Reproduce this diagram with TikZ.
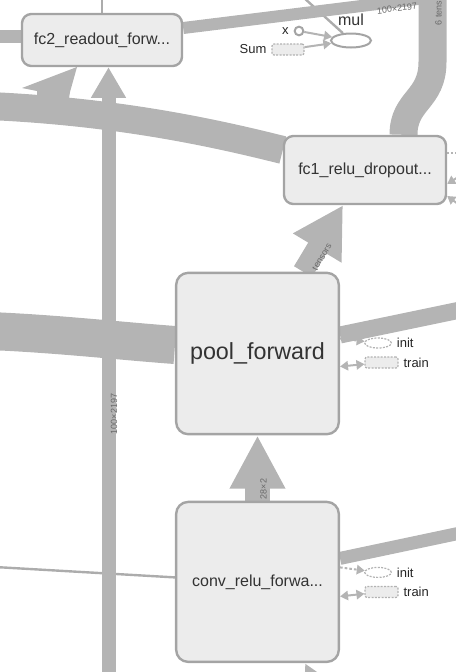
\documentclass[tikz,border=0pt]{standalone}
\usepackage{fontspec}
\setmainfont{Liberation Sans}
\usetikzlibrary{positioning,calc,arrows.meta,shapes.geometric}
\definecolor{edgegray}{RGB}{180,180,180}
\definecolor{thingray}{RGB}{172,172,172}
\definecolor{boxfill}{RGB}{236,236,236}
\definecolor{boxline}{RGB}{164,164,164}
\definecolor{nametext}{RGB}{51,51,51}
\definecolor{tagtext}{RGB}{105,105,105}
\pgfdeclarelayer{bg}
\pgfsetlayers{bg,main}
\tikzset{
    opbox/.style={
           rectangle, rounded corners=7pt,
           draw=boxline, line width=1.8pt,
           fill=boxfill, text=nametext,
           inner sep=0pt,
           font=\fontsize{12}{14}\selectfont,
           },
}
\tikzset{
    band/.style={draw=edgegray, line cap=butt},
    thinedge/.style={draw=thingray, line width=1.8pt},
    edgelbl/.style={text=tagtext, inner sep=0pt, font=\fontsize{6.75}{8}\selectfont},
    lbl/.style={text=black!85, inner sep=0.5pt, font=\fontsize{9.75}{11}\selectfont},
    auxnode/.style={draw=boxline!85, dash pattern=on 1.5pt off 1pt, line width=0.9pt, inner sep=0pt},
    auxarrow/.style={draw=edgegray, line width=1.5pt, -{Triangle[length=6pt,width=7pt]}},
    auxboth/.style={draw=edgegray, line width=1.5pt, {Triangle[length=6pt,width=7pt]}-{Triangle[length=6pt,width=7pt]}},
    label distance=3pt,
}

\begin{document}
\begin{tikzpicture}[x=0.75pt,y=-0.75pt]
\useasboundingbox (0,0) rectangle (455,672);

% group nodes
\node[opbox, minimum width=120pt, minimum height=39pt] (fc2) at (102,40) {fc2\_readout\_forw...};
\node[opbox, minimum width=121.5pt, minimum height=51pt] (fc1) at (365,170) {fc1\_relu\_dropout...};
\node[opbox, rounded corners=9pt, minimum width=122pt, minimum height=121pt,
      font=\fontsize{17.5}{20}\selectfont] (pool) at (257.5,353.5) {pool\_forward};
\node[opbox, rounded corners=9pt, minimum width=122pt, minimum height=120pt,
      below=49pt of pool] (conv) {conv\_relu\_forwa...};

% mul and its inputs
\node[ellipse, draw=boxline, line width=1.5pt, fill=white, minimum width=30pt, minimum height=10.5pt, inner sep=0pt,
      label={[text=nametext, inner sep=0pt, label distance=5pt, font=\fontsize{12}{14}\selectfont]above:mul}] (mul) at (351,40.5) {};
\node[circle, draw=boxline, line width=1.5pt, fill=white, minimum size=6.5pt, inner sep=0pt,
      label={[lbl]left:x}] (xin) at (299,31) {};
\node[auxnode, rectangle, rounded corners=1.5pt, fill=boxfill, minimum width=24pt, minimum height=8.25pt,
      label={[lbl]left:Sum}] (sumin) at (288,49.5) {};

% init / train
\node[auxnode, ellipse, fill=white, minimum width=20pt, minimum height=7.5pt, label={[lbl]right:init}] (init1) at ($(pool.east)+(38,-10.5)$) {};
\node[auxnode, rectangle, rounded corners=1.5pt, fill=boxfill, minimum width=24.75pt, minimum height=8.25pt, label={[lbl]right:train}] (train1) at ($(pool.east)+(41.5,9)$) {};
\node[auxnode, ellipse, fill=white, minimum width=20pt, minimum height=7.5pt, label={[lbl]right:init}] (init2) at ($(conv.east)+(38,-9.5)$) {};
\node[auxnode, rectangle, rounded corners=1.5pt, fill=boxfill, minimum width=24.75pt, minimum height=8.25pt, label={[lbl]right:train}] (train2) at ($(conv.east)+(41.5,10)$) {};

\begin{pgfonlayer}{bg}
\draw[thinedge] (102,-5) -- (fc2.north);
\draw[thinedge] (303,-3) -- (mul);
\draw[thinedge] (-5,567) -- ($(conv.west)+(0,-4.5)$);

\draw[band, line width=9.75pt] (-5,36.5) -- ($(fc2.west)+(0,-3.5)$);
\draw[band, line width=9pt] ($(fc2.east)+(0,-12)$) -- (430,-2.5);
\node[edgelbl, rotate=7] at (397,8.5) {100×2197};

\draw[band, line width=21pt] (432.5,-10) -- (432.5,62) .. controls (432.5,100) and (403.5,100) .. ($(fc1.north)+(38.5,0)$);
\node[edgelbl, rotate=90] at (438.5,13) {6 tens};

\draw[band, line width=21pt] (-10,106) .. controls (120,112) and (215,133) .. ($(fc1.west)+(0,-20)$);
\fill[edgegray] (77,67) -- (22,88) -- (37,91) -- (37,104) -- (68,104) -- (70,92) -- cycle;

\draw[band, line width=10.5pt, -{Triangle[length=23pt,width=24.75pt]}] (108.5,690) -- ($(fc2.south)+(6.5,0)$);
\node[edgelbl, rotate=90] at (114,414) {100×2197};

\draw[band, line width=28.5pt] (-10,331) .. controls (60,334) and (120,341) .. ($(pool.west)+(0,-8.5)$);
\draw[band, line width=12.75pt] ($(pool.east)+(0,-18.5)$) -- (465,309);

\draw[band, line width=15.75pt, -{Triangle[length=37.5pt,width=39.75pt]}] ($(pool.north)+(45.5,0)$) -- ($(fc1.south)+(-22,0)$);
\node[edgelbl, rotate=59] at (322,257) {tensors};

\draw[band, line width=18.75pt, -{Triangle[length=40pt,width=39pt]}] (conv.north) -- (pool.south);
\node[edgelbl, rotate=90] at (263.5,489) {28×2};

\draw[band, line width=9.75pt] ($(conv.east)+(0,-23.5)$) -- (465,532);
\draw[band, line width=15pt, -{Triangle[length=30pt,width=30pt]}] (341,736) -- ($(conv.south)+(47.5,0)$);
\end{pgfonlayer}

% small edges
\draw[auxarrow] (xin) -- (mul);
\draw[auxarrow] (sumin) -- (mul);
\draw[auxarrow, dash pattern=on 2pt off 1.5pt] ($(pool.east)+(0,-15)$) -- (init1);
\draw[auxboth] ($(pool.east)+(0,13)$) -- (train1);
\draw[auxarrow, dash pattern=on 2pt off 1.5pt] ($(conv.east)+(0,-14.5)$) -- (init2);
\draw[auxboth] ($(conv.east)+(0,14.5)$) -- (train2);
\draw[edgegray, line width=1.5pt, dash pattern=on 1.5pt off 1.5pt] ($(fc1.east)+(0,-17)$) -- (462,153);
\draw[auxarrow] (466,172) -- ($(fc1.east)+(0,14)$);
\draw[auxarrow] (466,210) -- ($(fc1.east)+(0,26)$);
\end{tikzpicture}
\end{document}
